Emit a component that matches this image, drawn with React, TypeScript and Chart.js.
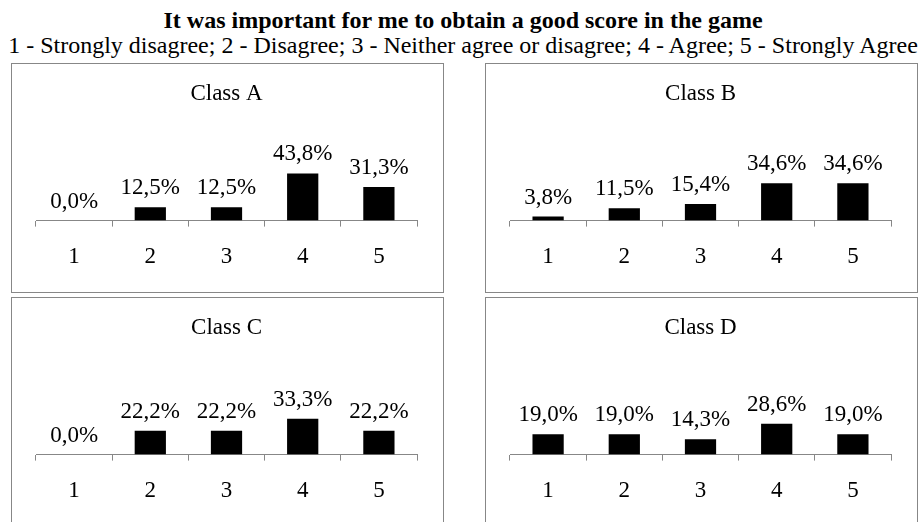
import React, { useEffect, useRef } from "react";
import { Chart, registerables } from "chart.js";

Chart.register(...registerables);

const FONT = "'Liberation Serif', serif";

const chartTitle = "It was important for me to obtain a good score in the game";
const chartSubtitle =
  "1 - Strongly disagree; 2 - Disagree; 3 - Neither agree or disagree; 4 - Agree; 5 - Strongly Agree";

const categories = ["1", "2", "3", "4", "5"];
const classA = [0.0, 12.5, 12.5, 43.8, 31.3];
const classB = [3.8, 11.5, 15.4, 34.6, 34.6];
const classC = [0.0, 22.2, 22.2, 33.3, 22.2];
const classD = [19.0, 19.0, 14.3, 28.6, 19.0];
const panelTitles = ["Class A", "Class B", "Class C", "Class D"];
const yMax = 100;

const GRAY = "#878787";

const valueLabels = {
  id: "valueLabels",
  afterDatasetsDraw(chart: any) {
    const ctx = chart.ctx;
    const meta = chart.getDatasetMeta(0);
    const data = chart.data.datasets[0].data as number[];
    ctx.save();
    ctx.font = `normal normal 23px ${FONT}`;
    ctx.fillStyle = "#000";
    ctx.textAlign = "center";
    ctx.textBaseline = "alphabetic";
    meta.data.forEach((bar: any, i: number) => {
      const v = data[i];
      ctx.fillText(v.toFixed(1).replace(".", ",") + "%", bar.x, bar.y - 13);
    });
    ctx.restore();
  },
};

function Panel({ title, values, left, top }: { title: string; values: number[]; left: number; top: number }) {
  const ref = useRef<HTMLCanvasElement>(null);
  useEffect(() => {
    if (!ref.current) return;
    const chart = new Chart(ref.current, {
      type: "bar",
      data: {
        labels: categories,
        datasets: [
          {
            data: values,
            backgroundColor: "#000",
            borderWidth: 0,
            barPercentage: 0.41,
            categoryPercentage: 1,
          },
        ],
      },
      options: {
        animation: false,
        responsive: false,
        layout: { padding: { left: 24, right: 26, top: 0, bottom: 5 } },
        plugins: {
          legend: { display: false },
          tooltip: { enabled: false },
          title: {
            display: true,
            text: title,
            color: "#000",
            font: { family: FONT, size: 23, weight: "normal", style: "normal" },
            padding: { top: 16, bottom: 5.4 },
          },
        },
        scales: {
          x: {
            grid: {
              display: true,
              drawOnChartArea: false,
              drawTicks: true,
              tickLength: 6,
              color: GRAY,
              offset: true,
            },
            border: { display: true, color: GRAY, width: 1 },
            ticks: {
              color: "#000",
              font: { family: FONT, size: 23, weight: "normal", style: "normal" },
              padding: 16.4,
            },
          },
          y: { display: false, min: 0, max: yMax },
        },
      },
      plugins: [valueLabels],
    });
    return () => chart.destroy();
  }, [title, values]);
  return (
    <div
      style={{
        position: "absolute",
        left,
        top,
        width: 433,
        height: 230,
        border: `1px solid ${GRAY}`,
        boxSizing: "border-box",
        background: "#fff",
      }}
    >
      <canvas ref={ref} width={431} height={228} style={{ display: "block" }} />
    </div>
  );
}

export default function App() {
  const series = [classA, classB, classC, classD];
  const pos = [
    [11, 63],
    [485, 63],
    [11, 297],
    [485, 297],
  ];
  return (
    <div
      style={{
        position: "fixed",
        left: 0,
        top: 0,
        width: 924,
        height: 522,
        overflow: "hidden",
        background: "#fff",
        fontFamily: FONT,
      }}
    >
      <div
        style={{
          position: "absolute",
          left: 0,
          width: 926,
          top: 8,
          textAlign: "center",
          fontSize: 24,
          lineHeight: "24px",
          fontWeight: "bold",
          whiteSpace: "nowrap",
        }}
      >
        {chartTitle}
      </div>
      <div
        style={{
          position: "absolute",
          left: 0,
          width: 926,
          top: 32.5,
          textAlign: "center",
          fontSize: 24,
          lineHeight: "24px",
          whiteSpace: "nowrap",
        }}
      >
        {chartSubtitle}
      </div>
      {series.map((v, i) => (
        <Panel key={i} title={panelTitles[i]} values={v} left={pos[i][0]} top={pos[i][1]} />
      ))}
    </div>
  );
}
